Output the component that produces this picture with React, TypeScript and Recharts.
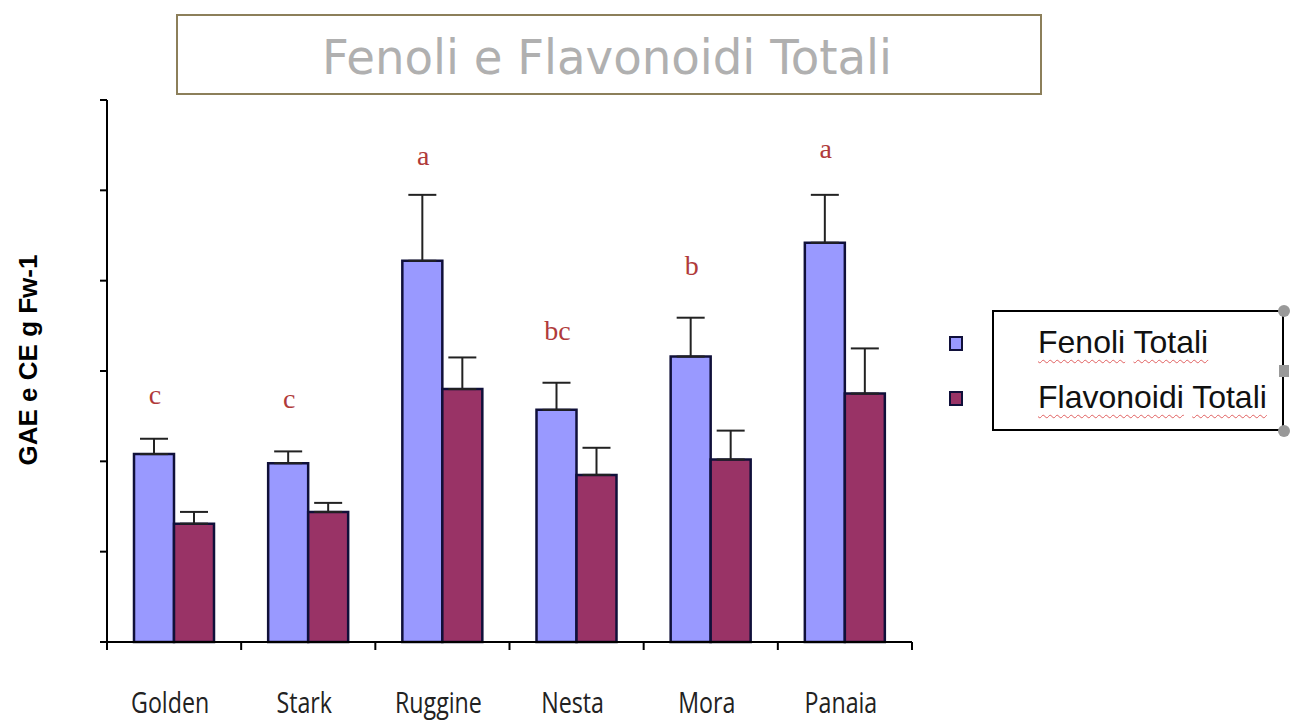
import React from 'react';
import { BarChart, Bar, XAxis, YAxis, ErrorBar, LabelList } from 'recharts';

const categories = ['Golden', 'Stark', 'Ruggine', 'Nesta', 'Mora', 'Panaia'];
const fenoli = [2.08, 1.98, 4.22, 2.57, 3.16, 4.42];
const fenoliErr = [0.17, 0.13, 0.73, 0.3, 0.43, 0.53];
const flavonoidi = [1.31, 1.44, 2.8, 1.85, 2.02, 2.75];
const flavonoidiErr = [0.13, 0.1, 0.35, 0.3, 0.32, 0.5];
const letters = ['c', 'c', 'a', 'bc', 'b', 'a'];
const letterPos = [2.63, 2.59, 5.28, 3.34, 4.06, 5.36];
const yTicks = [0, 1, 2, 3, 4, 5, 6];
const seriesNames = ['Fenoli Totali', 'Flavonoidi Totali'];
const seriesColors = ['#9999FF', '#993366'];
const title = 'Fenoli e Flavonoidi Totali';
const yLabel = 'GAE e CE g Fw-1';

const data = categories.map((c, i) => ({
  name: c,
  fenoli: fenoli[i],
  fenoliErr: [0, fenoliErr[i]],
  flavonoidi: flavonoidi[i],
  flavonoidiErr: [0, flavonoidiErr[i]],
}));

const LetterLabel = (props: any) => {
  const idx = categories.indexOf(props.value);
  if (idx < 0) return null;
  const x = Number(props.x);
  const y = Number(props.y);
  const w = Number(props.width);
  const h = Number(props.height);
  const scale = h / fenoli[idx];
  const ly = y + h - letterPos[idx] * scale;
  return (
    <text x={x + w / 2 + 1} y={ly} textAnchor="middle" fill="#B03A3A"
      style={{ fontFamily: '"Liberation Serif", "DejaVu Serif", serif', fontSize: 28 }}>
      {letters[idx]}
    </text>
  );
};

const CatTick = (props: any) => {
  const { x, y, payload, index, visibleTicksCount } = props;
  const cx = Number(x);
  const cy = Number(y);
  const half = Number(payload?.offset) || 0;
  const isLast = index === (visibleTicksCount ?? categories.length) - 1;
  return (
    <g>
      {half > 0 && <line x1={cx - half} x2={cx - half} y1={cy} y2={cy + 8} stroke="#000" strokeWidth={2} />}
      {half > 0 && isLast && <line x1={cx + half} x2={cx + half} y1={cy} y2={cy + 8} stroke="#000" strokeWidth={2} />}
      <text transform={`translate(${cx - 4} ${cy + 71}) scale(0.8 1)`} textAnchor="middle" fill="#222"
        style={{ fontFamily: '"Open Sans", sans-serif', fontSize: 29 }}>
        {payload.value}
      </text>
    </g>
  );
};

const wavy = {
  textDecorationLine: 'underline',
  textDecorationStyle: 'wavy' as const,
  textDecorationColor: '#E06060',
  textDecorationThickness: '1px',
  textUnderlineOffset: '6px',
};

export default function App() {
  return (
    <div style={{ position: 'absolute', left: 0, top: 0, width: 1290, height: 724, background: '#fff' }}>
      <BarChart
        width={1290}
        height={724}
        data={data}
        margin={{ top: 100, right: 378, bottom: 0, left: 0 }}
        barGap={0}
        barSize={40}
      >
        <XAxis
          dataKey="name"
          height={82}
          axisLine={{ stroke: '#000', strokeWidth: 2 }}
          tickLine={false}
          tickSize={0}
          tickMargin={0}
          tick={<CatTick />}
          interval={0}
        />
        <YAxis
          width={107}
          domain={[0, 6]}
          ticks={yTicks}
          tickSize={7}
          tickFormatter={() => ''}
          axisLine={{ stroke: '#000', strokeWidth: 2 }}
          tickLine={{ stroke: '#000', strokeWidth: 2 }}
        />
        <Bar dataKey="fenoli" name={seriesNames[0]} fill={seriesColors[0]} stroke="#10103A" strokeWidth={2.5} isAnimationActive={false}>
          <ErrorBar dataKey="fenoliErr" width={14} stroke="#222" strokeWidth={2} direction="y" />
          <LabelList dataKey="name" content={<LetterLabel />} />
        </Bar>
        <Bar dataKey="flavonoidi" name={seriesNames[1]} fill={seriesColors[1]} stroke="#10103A" strokeWidth={2.5} isAnimationActive={false}>
          <ErrorBar dataKey="flavonoidiErr" width={14} stroke="#222" strokeWidth={2} direction="y" />
        </Bar>
      </BarChart>

      <svg width={1290} height={724} style={{ position: 'absolute', left: 0, top: 0, pointerEvents: 'none' }}>
        <rect x={177} y={15} width={864} height={79} fill="#fff" stroke="#8C7F5A" strokeWidth={2} />
        <text x={607} y={74} textAnchor="middle" fill="#B0B0B0" textLength={570} lengthAdjust="spacingAndGlyphs"
          style={{ fontFamily: '"DejaVu Sans", sans-serif', fontSize: 48 }}>
          {title}
        </text>
        <text x={0} y={0} transform="translate(37 360) rotate(-90)" textAnchor="middle" fill="#000"
          style={{ fontFamily: '"Liberation Sans", Arial, sans-serif', fontSize: 26, fontWeight: 'bold' }}>
          {yLabel}
        </text>
        <rect x={993} y={311} width={290} height={119} fill="#fff" stroke="#000" strokeWidth={2} />
        <circle cx={1284} cy={311} r={6} fill="#999" />
        <circle cx={1284} cy={431} r={6} fill="#999" />
        <rect x={1279} y={365} width={10} height={12} fill="#999" />
        {seriesColors.map((c, i) => (
          <rect key={c} x={950} y={337 + i * 55} width={12} height={13} fill={c} stroke="#10103A" strokeWidth={2} />
        ))}
      </svg>
      {seriesNames.map((n, i) => (
        <div key={n} style={{ position: 'absolute', left: 1038, top: 324 + i * 55, fontFamily: '"Liberation Sans", Arial, sans-serif', fontSize: 32, color: '#111', whiteSpace: 'nowrap', lineHeight: '36px' }}>
          {n.split(' ').map((w, j) => (
            <React.Fragment key={j}>
              {j > 0 ? ' ' : ''}
              <span style={wavy}>{w}</span>
            </React.Fragment>
          ))}
        </div>
      ))}
    </div>
  );
}
